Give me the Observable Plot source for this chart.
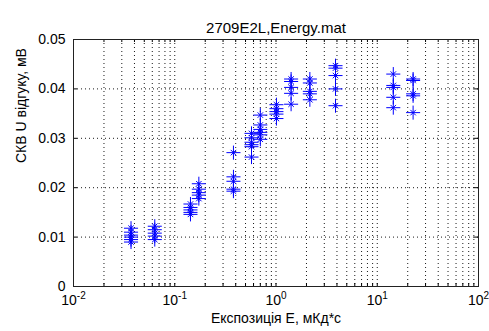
<!DOCTYPE html>
<html>
<head>
<meta charset="utf-8">
<script src="https://cdn.jsdelivr.net/npm/d3@7"></script>
<script src="https://cdn.jsdelivr.net/npm/@observablehq/plot@0.6"></script>
<style>
  html, body { margin: 0; padding: 0; background: #fff; }
  #chart svg { display: block; }
</style>
</head>
<body>
<div id="chart"></div>
<script>
const titleText = "2709E2L,Energy.mat";
const xLabel = "Експозиція Е, мКд*с";
const yLabel = "СКВ U відгуку, мВ";

const exposures = [0.037, 0.0635, 0.143, 0.173, 0.38, 0.573, 0.70, 1.01, 1.41, 2.16, 3.87, 14.4, 22.6];
const c1  = [0.0118, 0.0110, 0.0104, 0.0100, 0.0095, 0.0090];
const c2  = [0.0122, 0.0115, 0.0108, 0.0102, 0.0095];
const c3  = [0.0167, 0.0160, 0.0155, 0.0150, 0.0146];
const c4  = [0.0208, 0.0197, 0.0190, 0.0185, 0.0178];
const c5  = [0.0271, 0.0222, 0.0213, 0.0197, 0.0193];
const c6  = [0.0310, 0.0301, 0.0292, 0.0287, 0.0283, 0.0262];
const c7  = [0.0347, 0.0327, 0.0318, 0.0312, 0.0307, 0.0298];
const c8  = [0.0368, 0.0360, 0.0354, 0.0349, 0.0340];
const c9  = [0.0420, 0.0415, 0.0403, 0.0391, 0.0369];
const c10 = [0.0420, 0.0412, 0.0395, 0.0390, 0.0378];
const c11 = [0.0447, 0.0442, 0.0427, 0.0400, 0.0366];
const c12 = [0.0430, 0.0407, 0.0403, 0.0383, 0.0362];
const c13 = [0.0420, 0.0417, 0.0390, 0.0386, 0.0352];
const responses = [c1, c2, c3, c4, c5, c6, c7, c8, c9, c10, c11, c12, c13];

const xTickLabels = ["10^-2", "10^-1", "10^0", "10^1", "10^2"];
const xDecades = [0.01, 0.1, 1, 10, 100];
const yTicks = [0, 0.01, 0.02, 0.03, 0.04, 0.05];
const yTickLabels = ["0", "0.01", "0.02", "0.03", "0.04", "0.05"];

const data = [];
exposures.forEach((e, i) => responses[i].forEach(v => data.push({x: e, y: v})));

const minor = [];
for (const d of xDecades.slice(0, -1)) for (let k = 2; k <= 9; k++) minor.push(d * k);

const W = 489, H = 331;
const mL = 73, mR = 11, mT = 39, mB = 45;
const frameH = H - mT - mB, frameW = W - mL - mR;
const dotted = {stroke: "#000", strokeWidth: 1, strokeDasharray: "1,3", strokeOpacity: 0.9};
const blue = "#0000ff";

const chart = Plot.plot({
  width: W, height: H,
  marginLeft: mL, marginRight: mR, marginTop: mT, marginBottom: mB,
  style: {fontFamily: "'Liberation Sans', Arial, sans-serif", fontSize: "14px", background: "#fff", color: "#000"},
  x: {type: "log", domain: [0.01, 100], axis: null},
  y: {domain: [0, 0.05], axis: null},
  marks: [
    Plot.ruleX(minor, {x: d => d, ...dotted}),
    Plot.ruleX(xDecades.slice(1, -1), {x: d => d, ...dotted}),
    Plot.ruleY(yTicks.slice(1, -1), {y: d => d, ...dotted}),
    // inward ticks
    Plot.tickX(xDecades.concat(minor), {x: d => d, insetTop: frameH - 3, stroke: "#000"}),
    Plot.tickX(xDecades.concat(minor), {x: d => d, insetBottom: frameH - 3, stroke: "#000"}),
    Plot.tickY(yTicks, {y: d => d, insetRight: frameW - 4, stroke: "#000"}),
    Plot.tickY(yTicks, {y: d => d, insetLeft: frameW - 4, stroke: "#000"}),
    Plot.frame({stroke: "#222", strokeWidth: 1}),
    // markers (MATLAB '*': plus + small times)
    Plot.dot(data, {x: "x", y: "y", symbol: "plus", r: 4.6, stroke: blue, strokeWidth: 1}),
    Plot.dot(data, {x: "x", y: "y", symbol: "times", r: 2.6, stroke: blue, strokeWidth: 1}),
    // tick labels
    Plot.text(yTicks, {y: d => d, frameAnchor: "left", dx: -8, textAnchor: "end", text: (d, i) => yTickLabels[i], fill: "#000"}),
    Plot.text(xDecades, {x: d => d, frameAnchor: "bottom", dy: 18, text: (d, i) => xTickLabels[i], fill: "#000"}),
    // labels
    Plot.text([titleText], {frameAnchor: "top", dy: -17, fill: "#000", fontSize: 15}),
    Plot.text([xLabel], {frameAnchor: "bottom", dy: 36, fill: "#000"}),
    Plot.text([yLabel], {frameAnchor: "left", dx: -52, rotate: -90, fill: "#000"})
  ]
});

// superscript exponents on the log tick labels
chart.querySelectorAll("text").forEach(t => {
  const m = /^10\^(-?\d+)$/.exec(t.textContent);
  if (m) {
    t.textContent = "10";
    const s = document.createElementNS("http://www.w3.org/2000/svg", "tspan");
    s.setAttribute("dy", "-6");
    s.setAttribute("font-size", "10");
    s.textContent = m[1];
    t.appendChild(s);
  }
});

document.getElementById("chart").appendChild(chart);
</script>
</body>
</html>
